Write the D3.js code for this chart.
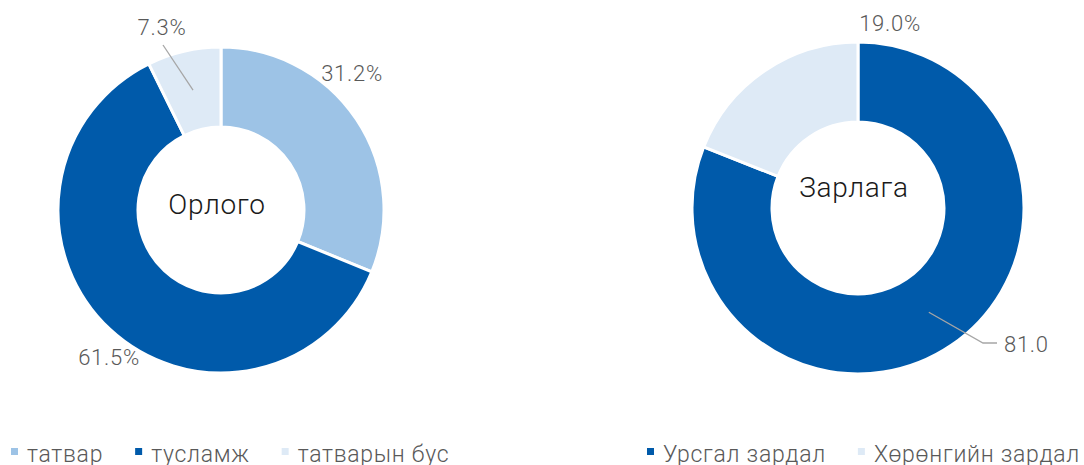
<!DOCTYPE html>
<html>
<head>
<meta charset="utf-8">
<script src="https://cdn.jsdelivr.net/npm/d3@7"></script>
<style>
  body { margin: 0; background: #fff; }
  svg { display: block; font-family: Roboto, "Noto Sans", sans-serif; font-weight: 300; letter-spacing: 0.045em; }
</style>
</head>
<body>
<div id="vis"></div>
<script>
// Two donuts: income (Орлого) and expenditure (Зарлага) shares.

const INCOME_LABELS  = ["татвар", "тусламж", "татварын бус"];
const INCOME_VALUES  = [31.2, 61.5, 7.3];
const INCOME_TEXT    = ["31.2%", "61.5%", "7.3%"];

const EXPENSE_LABELS = ["Урсгал зардал", "Хөрөнгийн зардал"];
const EXPENSE_VALUES = [81.0, 19.0];
const EXPENSE_TEXT   = ["81.0", "19.0%"];

const W = 1084, H = 465;

// layout for each donut; label offsets are relative to the donut centre
const CHARTS = [
  {
    title: "Орлого", labels: INCOME_LABELS, values: INCOME_VALUES, text: INCOME_TEXT,
    colors: ["#9dc3e6", "#005aaa", "#deeaf6"],
    cx: 221, cy: 210, rOuter: 163, rInner: 83, titleDy: -6,
    labelPos: [[131, -137, "middle"], [-112, 147, "middle"], [-59, -183, "middle"]],
    leader: [null, null, [[-58, -165]]],
    legendX: 11
  },
  {
    title: "Зарлага", labels: EXPENSE_LABELS, values: EXPENSE_VALUES, text: EXPENSE_TEXT,
    colors: ["#005aaa", "#deeaf6"],
    cx: 858, cy: 208, rOuter: 166, rInner: 86, titleDy: -21,
    labelPos: [[146, 136, "start"], [32, -185, "middle"]],
    leader: [[[125, 135], [139, 135]], null],
    legendX: 647
  }
];

const svg = d3.select("#vis").append("svg").attr("width", W).attr("height", H);

CHARTS.forEach(c => {
  const g = svg.append("g").attr("transform", `translate(${c.cx},${c.cy})`);
  const pie = d3.pie().sort(null).value(d => d)(c.values);
  const arc = d3.arc().innerRadius(c.rInner).outerRadius(c.rOuter);

  g.selectAll("path.slice").data(pie).join("path")
    .attr("class", "slice")
    .attr("d", arc)
    .attr("fill", (d, i) => c.colors[i])
    .attr("stroke", "#fff").attr("stroke-width", 3);

  // leader lines start at the slice centroid
  pie.forEach((d, i) => {
    if (!c.leader[i]) return;
    const pts = [arc.centroid(d), ...c.leader[i]];
    g.append("path")
      .attr("d", d3.line()(pts))
      .attr("fill", "none").attr("stroke", "#a6a6a6").attr("stroke-width", 1.3);
  });

  pie.forEach((d, i) => {
    const [dx, dy, anchor] = c.labelPos[i];
    g.append("text")
      .attr("x", dx).attr("y", dy)
      .attr("dy", "0.36em")
      .attr("text-anchor", anchor)
      .style("font-size", "22px").style("fill", "#595959")
      .text(c.text[i]);
  });

  g.append("text")
    .attr("x", -4).attr("y", c.titleDy)
    .attr("dy", "0.36em")
    .attr("text-anchor", "middle")
    .style("font-size", "28px").style("fill", "#1a1a1a")
    .text(c.title);

  // legend
  let x = c.legendX;
  c.labels.forEach((lab, i) => {
    svg.append("rect")
      .attr("x", x).attr("y", 448).attr("width", 7).attr("height", 7)
      .attr("fill", c.colors[i]);
    const t = svg.append("text")
      .attr("x", x + 16).attr("y", 462)
      .style("font-size", "23px").style("fill", "#595959")
      .text(lab);
    x += 16 + t.node().getComputedTextLength() + 32;
  });
});
</script>
</body>
</html>
